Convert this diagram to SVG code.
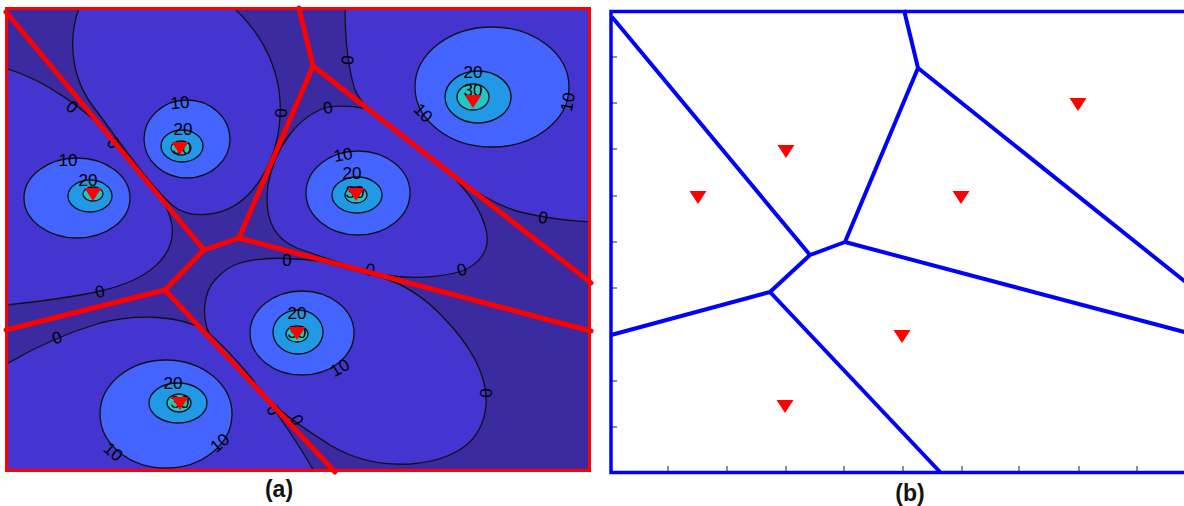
<svg xmlns="http://www.w3.org/2000/svg" width="1184" height="506" viewBox="0 0 1184 506">
<defs>
<style>
.bg{fill:#3c2aa0}
.z0{fill:#4434d0;stroke:#111;stroke-width:1.3}
.z10{fill:#4464ff;stroke:#111;stroke-width:1.3}
.z20{fill:#2299e6;stroke:#111;stroke-width:1.3}
.z30{fill:#1ec8c8;stroke:#111;stroke-width:1.3}
.lab{font-family:"Liberation Sans",Arial,sans-serif;font-size:17px;fill:#000;text-anchor:middle;dominant-baseline:central}
.red{fill:none;stroke:#ff0000;stroke-width:5;stroke-linejoin:round;stroke-linecap:round}
.blue{fill:none;stroke:#0000ff;stroke-width:4;stroke-linejoin:round}
.tick{stroke:#222;stroke-width:1}
.tri{fill:#ff0000}
.cap{font-family:"Liberation Sans",Arial,sans-serif;font-weight:bold;font-size:23px;fill:#111;text-anchor:middle}
</style>
<clipPath id="clipA"><rect x="7" y="8" width="582" height="463"/></clipPath>
<polygon id="tr" points="-8.5,-7 8.5,-7 0,6"/>
</defs>

<g id="panel-a">
<g clip-path="url(#clipA)">
<rect class="bg" x="0" y="0" width="600" height="480"/>
<g id="zero-regions">
<path class="z0" d="M5,68 C45,80 85,108 118,143 C145,172 168,200 172,225 C176,255 150,280 100,291 C70,298 35,302 5,305 Z"/>
<path class="z0" d="M80,6 C68,35 70,75 92,105 C115,135 145,180 172,205 C190,220 225,218 248,195 C272,170 282,135 280,100 C277,60 258,30 232,6 Z"/>
<path class="z0" d="M328,107 C300,115 275,145 268,185 C264,215 272,238 297,248 C330,260 360,270 385,275 C410,279 440,278 462,271 C480,264 489,250 487,235 C484,215 472,197 457,181 C430,152 400,125 383,115 C365,106 345,105 328,107 Z"/>
<path class="z0" d="M345,6 C345,35 347,65 355,90 C362,105 372,112 385,122 L457,178 C475,192 495,205 520,212 C545,218 565,221 592,222 L592,6 Z"/>
<path class="z0" d="M240,263 C262,256 290,258 320,261 L380,277 C405,284 425,298 443,317 C470,345 488,375 486,405 C483,440 458,460 410,464 C375,466 350,457 330,445 C310,432 290,420 275,405 C250,382 225,360 210,335 C200,315 205,290 215,280 C222,272 230,266 240,263 Z"/>
<path class="z0" d="M5,365 C30,350 60,335 100,323 C140,313 180,316 205,330 C235,355 262,390 278,415 C292,435 305,455 315,473 L5,473 Z"/>
</g>
<g id="ten-regions">
<ellipse class="z10" cx="77" cy="198" rx="53" ry="40"/>
<ellipse class="z10" cx="187" cy="139" rx="43" ry="39"/>
<ellipse class="z10" cx="358" cy="193" rx="52" ry="42"/>
<ellipse class="z10" cx="492" cy="87" rx="77" ry="60"/>
<ellipse class="z10" cx="302" cy="333" rx="52" ry="42"/>
<ellipse class="z10" cx="166" cy="414" rx="66" ry="54"/>
</g>
<g id="twenty-regions">
<ellipse class="z20" cx="90" cy="196" rx="22" ry="16"/>
<ellipse class="z20" cx="182" cy="146" rx="21" ry="16"/>
<ellipse class="z20" cx="357" cy="195" rx="25" ry="18"/>
<ellipse class="z20" cx="478" cy="97" rx="33" ry="26"/>
<ellipse class="z20" cx="298" cy="332" rx="25" ry="22"/>
<ellipse class="z20" cx="178" cy="403" rx="29" ry="20"/>
</g>
<g id="thirty-regions">
<ellipse class="z30" cx="93" cy="194" rx="10" ry="7"/>
<ellipse class="z30" cx="181" cy="148" rx="10" ry="7"/>
<ellipse class="z30" cx="356" cy="195" rx="11" ry="8"/>
<ellipse class="z30" cx="473" cy="97" rx="16" ry="13"/>
<ellipse class="z30" cx="297" cy="334" rx="11" ry="8"/>
<ellipse class="z30" cx="179" cy="403" rx="12" ry="9"/>
</g>
<g id="contour-labels">
<text class="lab" transform="translate(72,107) rotate(40)">0</text>
<text class="lab" transform="translate(113,143) rotate(45)">0</text>
<text class="lab" transform="translate(280,113) rotate(90)">0</text>
<text class="lab" transform="translate(348,60) rotate(-85)">0</text>
<text class="lab" transform="translate(328,108) rotate(-10)">0</text>
<text class="lab" transform="translate(543,218) rotate(10)">0</text>
<text class="lab" transform="translate(462,270) rotate(-15)">0</text>
<text class="lab" transform="translate(370,270) rotate(15)">0</text>
<text class="lab" transform="translate(287,260)">0</text>
<text class="lab" transform="translate(485,393) rotate(90)">0</text>
<text class="lab" transform="translate(57,338) rotate(-20)">0</text>
<text class="lab" transform="translate(100,292) rotate(-12)">0</text>
<text class="lab" transform="translate(273,410) rotate(60)">0</text>
<text class="lab" transform="translate(297,420) rotate(60)">0</text>
<text class="lab" transform="translate(68,160)">10</text>
<text class="lab" transform="translate(180,103) rotate(-5)">10</text>
<text class="lab" transform="translate(343,155) rotate(-10)">10</text>
<text class="lab" transform="translate(423,113) rotate(45)">10</text>
<text class="lab" transform="translate(568,102) rotate(-80)">10</text>
<text class="lab" transform="translate(340,368) rotate(-30)">10</text>
<text class="lab" transform="translate(113,452) rotate(40)">10</text>
<text class="lab" transform="translate(220,443) rotate(-40)">10</text>
<text class="lab" transform="translate(88,180)">20</text>
<text class="lab" transform="translate(183,129)">20</text>
<text class="lab" transform="translate(352,173)">20</text>
<text class="lab" transform="translate(473,72)">20</text>
<text class="lab" transform="translate(297,313)">20</text>
<text class="lab" transform="translate(173,383)">20</text>
<text class="lab" transform="translate(182,148)">30</text>
<text class="lab" transform="translate(355,192)">30</text>
<text class="lab" transform="translate(473,90)">30</text>
<text class="lab" transform="translate(297,332)">30</text>
<text class="lab" transform="translate(180,402)">30</text>
</g>
</g>
<g id="voronoi-a">
<path class="red" d="M6,12 L204,250 L239,238 L313,66 L299,8"/>
<path class="red" d="M313,66 L591,283"/>
<path class="red" d="M239,238 L591,331"/>
<path class="red" d="M204,250 L165,290 L6,330"/>
<path class="red" d="M165,290 L335,472"/>
</g>
<g id="sites-a">
<use href="#tr" class="tri" x="93" y="195"/>
<use href="#tr" class="tri" x="180" y="149"/>
<use href="#tr" class="tri" x="356" y="195"/>
<use href="#tr" class="tri" x="473" y="102"/>
<use href="#tr" class="tri" x="297" y="334"/>
<use href="#tr" class="tri" x="180" y="404"/>
</g>
<rect x="6.5" y="8.5" width="583" height="462" fill="none" stroke="#ff0000" stroke-width="3"/>
<text class="cap" x="279" y="497">(a)</text>
</g>

<g id="panel-b">
<g id="ticks-b">
<path class="tick" d="M611,57h6M611,103h6M611,149h6M611,196h6M611,242h6M611,288h6M611,334h6M611,381h6M611,427h6"/>
<path class="tick" d="M668,472v-6M727,472v-6M786,472v-6M844,472v-6M903,472v-6M962,472v-6M1019,472v-6M1079,472v-6M1137,472v-6"/>
</g>
<g id="voronoi-b">
<path class="blue" d="M612,17 L810,255 L845,242 L918,68 L904,10"/>
<path class="blue" d="M918,68 L1188,284"/>
<path class="blue" d="M845,242 L1188,333"/>
<path class="blue" d="M810,255 L770,292 L611,335"/>
<path class="blue" d="M770,292 L940,472"/>
</g>
<path fill="none" stroke="#0000ff" stroke-width="3.5" d="M1190,11.5 H611 V472.5 H1190"/>
<g id="sites-b">
<use href="#tr" class="tri" x="698" y="198"/>
<use href="#tr" class="tri" x="786" y="152"/>
<use href="#tr" class="tri" x="961" y="198"/>
<use href="#tr" class="tri" x="1078" y="105"/>
<use href="#tr" class="tri" x="902" y="337"/>
<use href="#tr" class="tri" x="785" y="407"/>
</g>
<text class="cap" x="910" y="501">(b)</text>
</g>
</svg>
